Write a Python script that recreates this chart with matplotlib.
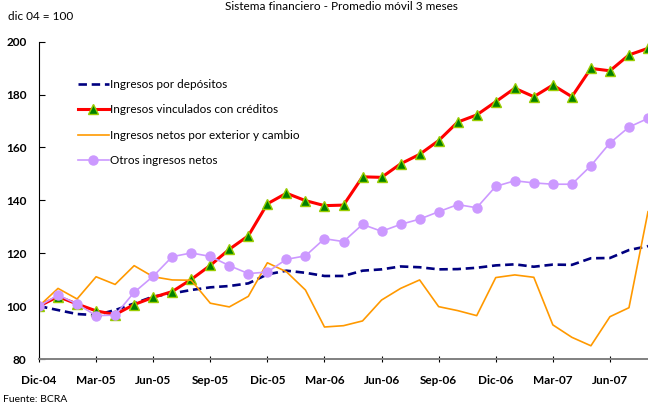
import matplotlib.pyplot as plt

plt.rcParams['font.family'] = ['Lato', 'DejaVu Sans']

# monthly index dic-04 = 100, 3-month moving average (Dic-04 .. Ago-07)
depositos = [100, 98.5, 97.0, 96.6, 98.5, 101.0, 103.6, 104.8, 106.1, 107.1, 107.6,
             108.6, 112.0, 113.4, 112.6, 111.4, 111.4, 113.4, 113.9, 115.0, 114.7,
             113.9, 114.0, 114.5, 115.4, 115.8, 114.9, 115.7, 115.6, 118.1, 118.2,
             121.2, 122.7]
creditos = [100, 103.6, 100.8, 98.2, 96.8, 100.6, 103.3, 105.5, 110.1, 115.4, 121.5,
            126.6, 138.7, 142.7, 139.9, 138.0, 138.2, 148.9, 148.7, 153.8, 157.4,
            162.6, 169.6, 172.3, 177.3, 182.4, 179.2, 183.6, 179.2, 189.9, 189.0,
            195.0, 197.5]
exterior = [100, 106.7, 102.7, 111.1, 108.2, 115.3, 111.1, 109.9, 109.8, 101.1, 99.7,
            103.7, 116.4, 113.0, 106.1, 92.1, 92.6, 94.4, 102.3, 106.7, 109.9,
            99.8, 98.3, 96.4, 110.8, 111.8, 110.9, 92.9, 88.2, 85.0, 96.0,
            99.4, 135.7]
otros = [100, 104.2, 100.8, 96.4, 96.6, 105.2, 111.3, 118.7, 120.1, 118.8, 115.3,
         112.3, 112.9, 117.7, 119.0, 125.5, 124.4, 130.9, 128.3, 130.9, 132.9,
         135.7, 138.4, 137.2, 145.3, 147.4, 146.6, 146.1, 146.1, 153.1, 161.7,
         167.7, 171.0]
labels = ['Dic-04', 'Mar-05', 'Jun-05', 'Sep-05', 'Dic-05', 'Mar-06', 'Jun-06',
          'Sep-06', 'Dic-06', 'Mar-07', 'Jun-07']

x = list(range(len(creditos)))

fig = plt.figure(figsize=(6.48, 4.07), dpi=100)
ax = fig.add_axes([39/648, 48/407, 609/648, 317.3/407])

ax.plot(x, depositos, color='#000080', lw=1.9, dashes=(3.2, 1.8),
        label='Ingresos por depósitos')
ax.plot(x, creditos, color='#FF0000', lw=2.2, marker='^', markersize=7,
        markerfacecolor='#008000', markeredgecolor='#99CC00', markeredgewidth=1,
        label='Ingresos vinculados con créditos')
ax.plot(x, exterior, color='#FF9900', lw=1.2,
        label='Ingresos netos por exterior y cambio')
ax.plot(x, otros, color='#CC99FF', lw=1.2, marker='o', markersize=6.5,
        markerfacecolor='#CC99FF', markeredgecolor='#CC99FF',
        label='Otros ingresos netos')

ax.set_xlim(0, 32)
ax.set_ylim(80, 200)
ax.set_yticks(range(80, 201, 20))
ax.set_xticks(range(0, 31, 3))
ax.set_xticklabels(labels)

for s in ['top', 'right']:
    ax.spines[s].set_visible(False)
ax.spines['left'].set_color('black')
ax.spines['bottom'].set_color('#808080')
ax.spines['bottom'].set_linewidth(1.4)

ax.tick_params(axis='y', direction='in', length=4, width=0.8, pad=9, labelsize=8.5)
ax.tick_params(axis='x', direction='inout', length=5, width=0.8, pad=9, labelsize=8.5)
for t in ax.get_xticklabels() + ax.get_yticklabels():
    t.set_fontweight('bold')

ax.legend(loc='upper left', bbox_to_anchor=(72/648, 1 - 73/407),
          bbox_transform=fig.transFigure, frameon=False, fontsize=8.5,
          handlelength=2.6, handletextpad=0.15, labelspacing=1.22, borderpad=0)

fig.text(341/648, 1 - 1/407, 'Sistema financiero - Promedio móvil 3 meses',
         ha='center', va='top', fontsize=8.5)
fig.text(8/648, 1 - 17/407, 'dic 04 = 100', ha='left', va='center', fontsize=8.5)
fig.text(3/648, 1 - 400/407, 'Fuente: BCRA', ha='left', va='center', fontsize=7.5)

fig.savefig('out.png', dpi=100)
